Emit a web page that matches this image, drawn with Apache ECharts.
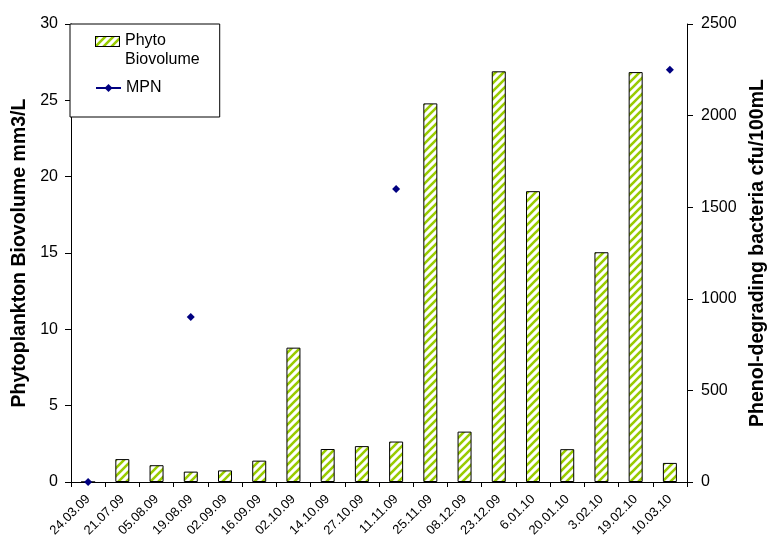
<!DOCTYPE html>
<html>
<head>
<meta charset="utf-8">
<script src="https://cdn.jsdelivr.net/npm/echarts@6/dist/echarts.min.js"></script>
<style>
html,body{margin:0;padding:0;background:#fff;}
#chart{width:769px;height:537px;}
</style>
</head>
<body>
<div id="chart"></div>
<script>
const categories = ['24.03.09','21.07.09','05.08.09','19.08.09','02.09.09','16.09.09','02.10.09','14.10.09','27.10.09','11.11.09','25.11.09','08.12.09','23.12.09','6.01.10','20.01.10','3.02.10','19.02.10','10.03.10'];
const phytoBiovolume = [0, 1.5, 1.1, 0.68, 0.76, 1.4, 8.8, 2.16, 2.35, 2.65, 24.8, 3.3, 26.9, 19.05, 2.15, 15.05, 26.85, 1.25];
const mpn = [0, null, null, 900, null, null, null, null, null, 1600, null, null, null, null, null, null, null, 2250];
const leftTicks = {min: 0, max: 30, interval: 5};
const rightTicks = {min: 0, max: 2500, interval: 500};

const FONT = '"Liberation Sans", Arial, sans-serif';

// hatch pattern
const pc = document.createElement('canvas');
pc.width = 8; pc.height = 8;
const px = pc.getContext('2d');
px.fillStyle = '#ffffff'; px.fillRect(0, 0, 8, 8);
px.strokeStyle = '#99cc00'; px.lineWidth = 2.6;
px.beginPath();
px.moveTo(-2, 10); px.lineTo(10, -2);
px.moveTo(-6, 6); px.lineTo(6, -6);
px.moveTo(2, 14); px.lineTo(14, 2);
px.stroke();
const hatch = {image: pc, repeat: 'repeat'};

// legend icon for bars: hatched rect on top part of a taller transparent image
const ic = document.createElement('canvas');
ic.width = 25; ic.height = 38;
const ix = ic.getContext('2d');
ix.fillStyle = ix.createPattern(pc, 'repeat');
ix.fillRect(0.5, 5.5, 24, 10);
ix.strokeStyle = '#000'; ix.lineWidth = 1;
ix.strokeRect(0.5, 5.5, 24, 10);
const barIcon = 'image://' + ic.toDataURL();

const chart = echarts.init(document.getElementById('chart'), null, {renderer: 'canvas'});
chart.setOption({
  animation: false,
  backgroundColor: '#ffffff',
  textStyle: {fontFamily: FONT},
  grid: {left: 71, right: 82, top: 24, bottom: 55, containLabel: false, outerBoundsMode: 'none'},
  legend: [
    {
      data: [{name: 'Phyto Biovolume', icon: barIcon}],
      orient: 'vertical',
      left: 70, top: 24,
      itemWidth: 25, itemHeight: 38,
      padding: [7, 20, 48, 25],
      borderColor: '#000', borderWidth: 1,
      backgroundColor: '#fff',
      formatter: function () { return 'Phyto\nBiovolume'; },
      textStyle: {fontFamily: FONT, fontSize: 16, color: '#000', lineHeight: 19},
      z: 10
    },
    {
      data: ['MPN'],
      orient: 'vertical',
      left: 95, top: 80,
      itemWidth: 25, itemHeight: 10,
      padding: 0,
      textStyle: {fontFamily: FONT, fontSize: 16, color: '#000'},
      z: 11
    }
  ],
  xAxis: {
    type: 'category',
    data: categories,
    boundaryGap: true,
    axisLine: {lineStyle: {color: '#000', width: 1}},
    axisTick: {show: true, alignWithLabel: false, length: 5, lineStyle: {color: '#000'}},
    axisLabel: {rotate: 45, interval: 0, fontSize: 13, color: '#000', margin: 15, fontFamily: FONT}
  },
  yAxis: [
    {
      type: 'value',
      min: leftTicks.min, max: leftTicks.max, interval: leftTicks.interval,
      name: 'Phytoplankton Biovolume mm3/L',
      nameLocation: 'middle', nameRotate: 90, nameGap: 39,
      nameTextStyle: {fontFamily: FONT, fontSize: 19.5, fontWeight: 'bold', color: '#000'},
      axisLine: {show: true, lineStyle: {color: '#000'}},
      axisTick: {show: true, length: 6, lineStyle: {color: '#000'}},
      axisLabel: {fontSize: 16, color: '#000', margin: 13, fontFamily: FONT},
      splitLine: {show: false}
    },
    {
      type: 'value',
      position: 'right',
      min: rightTicks.min, max: rightTicks.max, interval: rightTicks.interval,
      name: 'Phenol-degrading bacteria cfu/100mL',
      nameLocation: 'middle', nameRotate: 90, nameGap: 61,
      nameTextStyle: {fontFamily: FONT, fontSize: 19.5, fontWeight: 'bold', color: '#000'},
      axisLine: {show: true, lineStyle: {color: '#000'}},
      axisTick: {show: true, length: 6, lineStyle: {color: '#000'}},
      axisLabel: {fontSize: 16, color: '#000', margin: 14, fontFamily: FONT,
        formatter: function (v) { return String(v); }},
      splitLine: {show: false}
    }
  ],
  series: [
    {
      name: 'Phyto Biovolume',
      type: 'bar',
      yAxisIndex: 0,
      data: phytoBiovolume,
      barWidth: 14,
      itemStyle: {color: hatch, borderColor: '#000', borderWidth: 1}
    },
    {
      name: 'MPN',
      type: 'line',
      yAxisIndex: 1,
      data: mpn,
      connectNulls: false,
      symbol: 'diamond',
      symbolSize: 8,
      showSymbol: true,
      showAllSymbol: true,
      itemStyle: {color: '#000080'},
      lineStyle: {color: '#000080', width: 1},
      z: 5
    }
  ]
});
</script>
</body>
</html>
